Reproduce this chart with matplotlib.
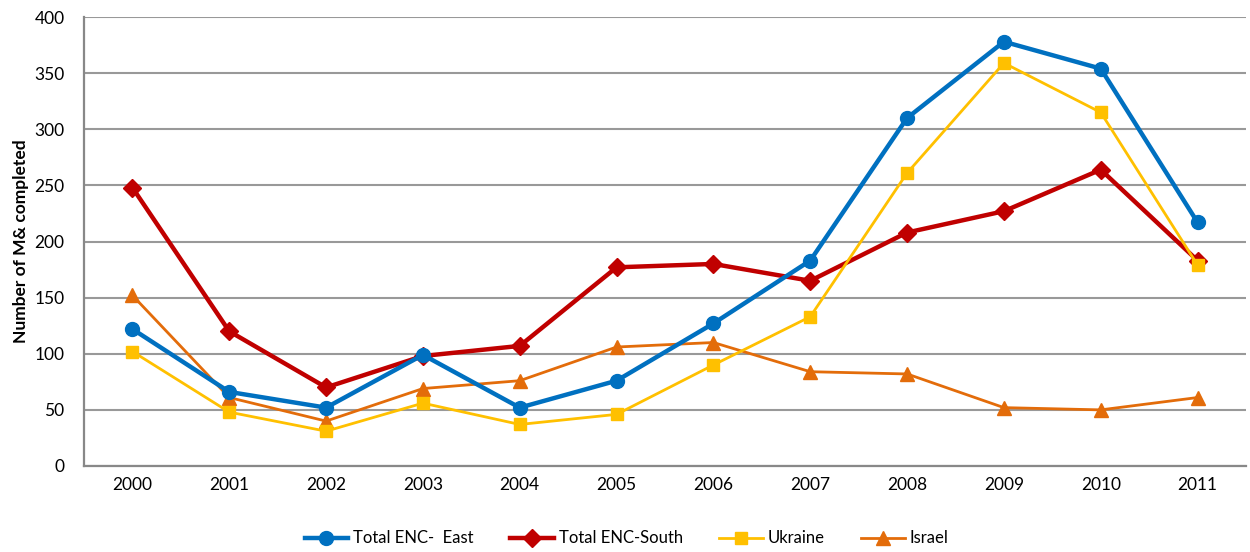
import numpy as np
import matplotlib
matplotlib.use('Agg')
from matplotlib import pyplot as plt

plt.rcParams['font.family'] = ['Lato', 'DejaVu Sans']

years = ['2000', '2001', '2002', '2003', '2004', '2005',
         '2006', '2007', '2008', '2009', '2010', '2011']

# counts per year for each series
enc_east = [122, 66, 52, 99, 52, 76, 127, 183, 310, 378, 354, 217]
enc_south = [248, 120, 70, 98, 107, 177, 180, 165, 208, 227, 264, 183]
ukraine = [102, 48, 31, 56, 37, 46, 90, 133, 261, 359, 315, 179]
israel = [152, 61, 40, 69, 76, 106, 110, 84, 82, 52, 50, 61]

x = np.arange(len(years))

fig = plt.figure(figsize=(12.5, 5.52), dpi=100)
ax = fig.add_axes([84 / 1250, 1 - 466 / 552, (1246 - 84) / 1250, (466 - 17) / 552])

ax.plot(x, enc_east, color='#0070C0', lw=3.2, marker='o', ms=10,
        label='Total ENC-  East', zorder=4)
ax.plot(x, enc_south, color='#C00000', lw=3.2, marker='D', ms=9,
        label='Total ENC-South', zorder=3)
ax.plot(x, ukraine, color='#FFC000', lw=2.0, marker='s', ms=8,
        label='Ukraine', zorder=5)
ax.plot(x, israel, color='#E36C0A', lw=2.0, marker='^', ms=9.5,
        label='Israel', zorder=2)

ax.set_xlim(-0.5, len(years) - 0.5)
ax.set_ylim(0, 400)
ax.set_yticks(np.arange(0, 401, 50))
ax.set_xticks(x)
ax.set_xticklabels(years)
ax.tick_params(length=0, labelsize=12.5, colors='black', pad=8)
ax.tick_params(axis='y', pad=14)
ax.yaxis.grid(True, color='#999999', lw=1.5)
ax.set_axisbelow(True)

for s in ['top', 'right']:
    ax.spines[s].set_visible(False)
for s in ['left', 'bottom']:
    ax.spines[s].set_color('#888888')
    ax.spines[s].set_linewidth(1.6)

ax.set_ylabel('Number of M& completed', fontsize=12.5, fontweight='bold', labelpad=4)

ax.legend(loc='upper center', bbox_to_anchor=(0.467, -0.11), ncol=4,
          frameon=False, fontsize=12, handlelength=2.6, columnspacing=2.2,
          handletextpad=0.3)

plt.savefig('out.png', dpi=100)
